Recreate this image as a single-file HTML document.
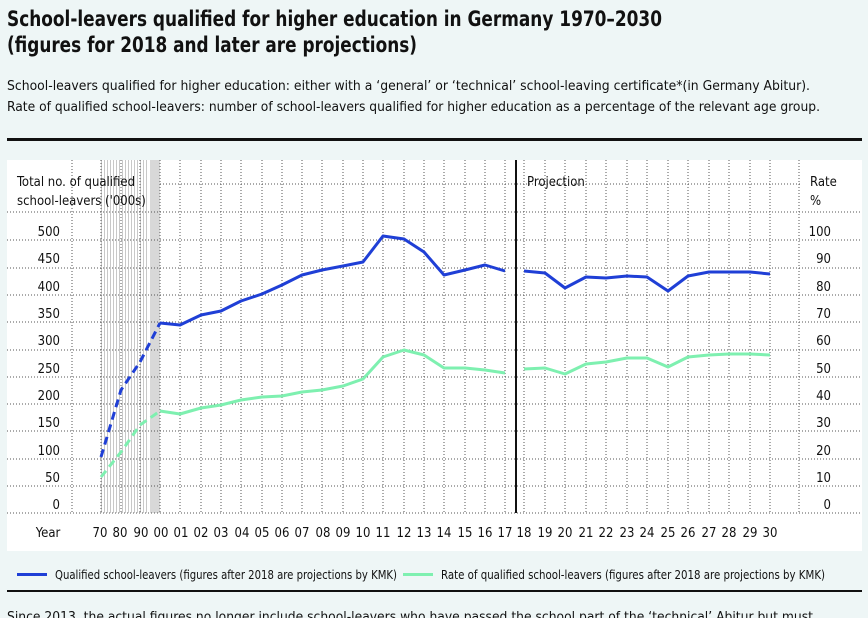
<!DOCTYPE html>
<html><head><meta charset="utf-8"><style>
html,body{margin:0;padding:0;background:#eef6f6;}
svg{display:block;font-family:"DejaVu Sans Condensed","Liberation Sans Narrow","Liberation Sans",sans-serif;}
</style></head><body>
<svg width="868" height="618" viewBox="0 0 868 618" xmlns="http://www.w3.org/2000/svg">
<rect width="868" height="618" fill="#eef6f6"/>
<text x="7" y="26" font-size="21" font-weight="bold" fill="#111" textLength="655" lengthAdjust="spacingAndGlyphs">School-leavers qualified for higher education in Germany 1970–2030</text>
<text x="7" y="52" font-size="21" font-weight="bold" fill="#111" textLength="410" lengthAdjust="spacingAndGlyphs">(figures for 2018 and later are projections)</text>
<text x="7" y="90" font-size="13" fill="#111" textLength="803" lengthAdjust="spacingAndGlyphs">School-leavers qualified for higher education: either with a ‘general’ or ‘technical’ school-leaving certificate*(in Germany Abitur).</text>
<text x="7" y="111" font-size="13" fill="#111" textLength="813" lengthAdjust="spacingAndGlyphs">Rate of qualified school-leavers: number of school-leavers qualified for higher education as a percentage of the relevant age group.</text>
<rect x="7" y="138" width="855" height="3" fill="#111"/>
<rect x="7" y="160" width="855" height="391" fill="#fff"/>
<g fill="#c8c8c8">
<rect x="150" y="160" width="10" height="353" fill="#d8d8d8"/>
<rect x="101" y="160" width="1" height="353"/><rect x="104" y="160" width="1" height="353"/><rect x="107" y="160" width="1" height="353"/><rect x="110" y="160" width="1" height="353"/><rect x="113" y="160" width="1" height="353"/><rect x="116" y="160" width="1" height="353"/><rect x="119" y="160" width="1" height="353"/><rect x="122" y="160" width="1" height="353"/><rect x="125" y="160" width="1" height="353"/><rect x="128" y="160" width="1" height="353"/><rect x="131" y="160" width="1" height="353"/><rect x="134" y="160" width="1" height="353"/><rect x="137" y="160" width="1" height="353"/><rect x="140" y="160" width="1" height="353"/><rect x="143" y="160" width="1" height="353"/><rect x="146" y="160" width="1" height="353"/>
</g>
<g stroke="#555" stroke-width="1" stroke-dasharray="1,2" fill="none">
<path d="M7 212H860M160 184H800M7 240H860M7 268H860M7 295H860M7 322H860M7 350H860M7 377H860M7 404H860M7 431H860M7 459H860M7 486H860M7 513H860"/>
<path d="M72 160V513M101 160V513M121 160V513M140 160V513M160 160V513M180 160V513M201 160V513M221 160V513M241 160V513M262 160V513M282 160V513M302 160V513M322 160V513M343 160V513M363 160V513M383 160V513M404 160V513M424 160V513M444 160V513M465 160V513M485 160V513M505 160V513M524 160V513M545 160V513M565 160V513M586 160V513M606 160V513M627 160V513M647 160V513M668 160V513M688 160V513M709 160V513M729 160V513M750 160V513M770 160V513M799 160V513"/>
</g>
<rect x="515" y="160" width="2" height="353" fill="#111"/>
<g font-size="13" fill="#111">
<text x="17" y="186">Total no. of qualified</text>
<text x="17" y="205">school-leavers ('000s)</text>
<text x="527" y="186">Projection</text>
<text x="810" y="186">Rate</text>
<text x="810" y="205">%</text>
</g>
<g font-size="13" fill="#111" text-anchor="end">
<text x="60" y="236">500</text><text x="60" y="263">450</text><text x="60" y="291">400</text><text x="60" y="318">350</text><text x="60" y="345">300</text><text x="60" y="373">250</text><text x="60" y="400">200</text><text x="60" y="427">150</text><text x="60" y="455">100</text><text x="60" y="482">50</text><text x="60" y="509">0</text>
<text x="831" y="236">100</text><text x="831" y="263">90</text><text x="831" y="291">80</text><text x="831" y="318">70</text><text x="831" y="345">60</text><text x="831" y="373">50</text><text x="831" y="400">40</text><text x="831" y="427">30</text><text x="831" y="455">20</text><text x="831" y="482">10</text><text x="831" y="509">0</text>
</g>
<g font-size="13" fill="#111" text-anchor="middle">
<text x="48" y="537">Year</text>
<text x="100" y="537">70</text><text x="120" y="537">80</text><text x="141" y="537">90</text><text x="161" y="537">00</text><text x="181" y="537">01</text><text x="201" y="537">02</text><text x="221" y="537">03</text><text x="242" y="537">04</text><text x="262" y="537">05</text><text x="282" y="537">06</text><text x="302" y="537">07</text><text x="323" y="537">08</text><text x="343" y="537">09</text><text x="363" y="537">10</text><text x="383" y="537">11</text><text x="404" y="537">12</text><text x="424" y="537">13</text><text x="444" y="537">14</text><text x="465" y="537">15</text><text x="485" y="537">16</text><text x="505" y="537">17</text>
<text x="524" y="537">18</text><text x="545" y="537">19</text><text x="565" y="537">20</text><text x="586" y="537">21</text><text x="606" y="537">22</text><text x="627" y="537">23</text><text x="647" y="537">24</text><text x="668" y="537">25</text><text x="688" y="537">26</text><text x="709" y="537">27</text><text x="729" y="537">28</text><text x="750" y="537">29</text><text x="770" y="537">30</text>
</g>
<g fill="none" stroke-width="3" stroke-linejoin="round">
<polyline stroke="#1f3fd6" stroke-dasharray="8,5" points="101,457 121,390 140,362 160,323"/>
<polyline stroke="#7ef0b0" stroke-dasharray="8,5" points="101,477 121,452 140,425 160,411"/>
<polyline stroke="#1f3fd6" points="160,323 180,325 201,315 221,311 241,301 262,294 282,285 302,275 322,270 343,266 363,262 383,236 404,239 424,252 444,275 465,270 485,265 505,271"/>
<polyline stroke="#1f3fd6" points="524,271 545,273 565,288 586,277 606,278 627,276 647,277 668,291 688,276 709,272 729,272 750,272 770,274"/>
<polyline stroke="#7ef0b0" points="160,411 180,414 201,408 221,405 241,400 262,397 282,396 302,392 322,390 343,386 363,379 383,357 404,350 424,355 444,368 465,368 485,370 505,373"/>
<polyline stroke="#7ef0b0" points="524,369 545,368 565,374 586,364 606,362 627,358 647,358 668,367 688,357 709,355 729,354 750,354 770,355"/>
</g>
<rect x="17" y="573" width="30" height="3" fill="#1f3fd6"/>
<text x="55" y="579" font-size="12" fill="#111" textLength="342" lengthAdjust="spacingAndGlyphs">Qualified school-leavers (figures after 2018 are projections by KMK)</text>
<rect x="403" y="573" width="30" height="3" fill="#7ef0b0"/>
<text x="441" y="579" font-size="12" fill="#111" textLength="384" lengthAdjust="spacingAndGlyphs">Rate of qualified school-leavers (figures after 2018 are projections by KMK)</text>
<rect x="7" y="590" width="855" height="2" fill="#111"/>
<text x="7" y="621" font-size="13" fill="#111" textLength="806" lengthAdjust="spacingAndGlyphs">Since 2013, the actual figures no longer include school-leavers who have passed the school part of the ‘technical’ Abitur but must</text>
</svg>
</body></html>
